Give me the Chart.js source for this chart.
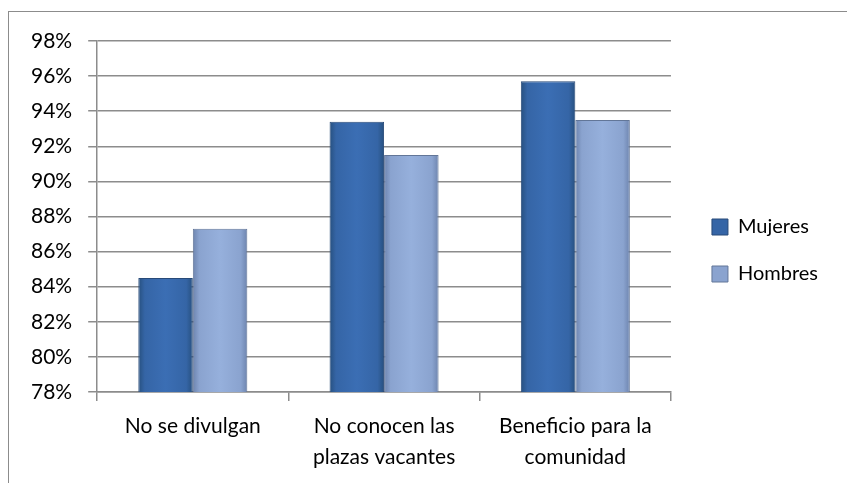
<!DOCTYPE html>
<html>
<head>
<meta charset="utf-8">
<script src="https://cdn.jsdelivr.net/npm/chart.js@4/dist/chart.umd.min.js"></script>
<style>
  html, body { margin: 0; padding: 0; background: #fff; }
  #wrap { position: relative; width: 847px; height: 483px; }
  #frame { position: absolute; left: 8px; top: 11px; width: 900px; height: 600px; border: 1px solid #8c8c8c; box-sizing: border-box; }
  canvas { position: absolute; left: 0; top: 0; }
</style>
</head>
<body>
<div id="wrap">
  <div id="frame"></div>
  <canvas id="barChart" width="847" height="483"></canvas>
</div>
<script>
const categories = ["No se divulgan", ["No conocen las", "plazas vacantes"], ["Beneficio para la", "comunidad"]];
const mujeres = [84.5, 93.4, 95.7];
const hombres = [87.3, 91.5, 93.5];
const yMin = 78;
const yMax = 98;
const yStep = 2;

const CAT_PCT = 0.57;
const FONT = "Lato, 'Open Sans', sans-serif";

document.addEventListener("DOMContentLoaded", () => {
  const canvas = document.getElementById("barChart");
  const ctx = canvas.getContext("2d");

  // degradado horizontal para imitar el bisel de Excel
  const bevel = (dark, mid, light) => (c) => {
    const sx = c.chart.scales.x;
    if (!sx || c.dataIndex == null) return mid;
    const barW = (sx.width / categories.length) * CAT_PCT / 2;
    const center = sx.getPixelForValue(c.dataIndex);
    const x0 = c.datasetIndex === 0 ? center - barW : center;
    const g = c.chart.ctx.createLinearGradient(x0, 0, x0 + barW, 0);
    g.addColorStop(0, dark);
    g.addColorStop(0.12, mid);
    g.addColorStop(0.5, light);
    g.addColorStop(0.88, mid);
    g.addColorStop(1, dark);
    return g;
  };

  // mover la leyenda un poco (a la derecha y arriba) como en el original
  const legendShift = {
    id: "legendShift",
    afterLayout(chart) {
      const lg = chart.legend;
      if (!lg) return;
      lg.left += 14;
      lg.right += 14;
      lg.top -= 11;
      lg.bottom -= 11;
    },
  };

  new Chart(ctx, {
    type: "bar",
    data: {
      labels: categories,
      datasets: [
        {
          label: "Mujeres",
          data: mujeres,
          backgroundColor: bevel("#27507f", "#3565a6", "#3b6eb4"),
          borderColor: "#284a78",
          borderWidth: 1,
          barPercentage: 1,
          categoryPercentage: CAT_PCT,
        },
        {
          label: "Hombres",
          data: hombres,
          backgroundColor: bevel("#6d84ae", "#8aa3cf", "#96b0dc"),
          borderColor: "#627698",
          borderWidth: 1,
          barPercentage: 1,
          categoryPercentage: CAT_PCT,
        },
      ],
    },
    plugins: [legendShift],
    options: {
      responsive: false,
      animation: false,
      layout: { padding: { left: 15, top: 41, right: 33, bottom: 1 } },
      plugins: {
        tooltip: { enabled: false },
        legend: {
          position: "right",
          align: "center",
          labels: {
            boxWidth: 16,
            boxHeight: 16,
            padding: 27,
            color: "#000",
            font: { family: FONT, size: 20 },
            generateLabels: (chart) =>
              chart.data.datasets.map((ds, i) => ({
                text: ds.label,
                fillStyle: i === 0 ? "#3565a6" : "#8aa3cf",
                strokeStyle: i === 0 ? "#284a78" : "#627698",
                lineWidth: 1,
                datasetIndex: i,
              })),
          },
        },
      },
      scales: {
        x: {
          grid: { offset: true, drawOnChartArea: false, color: "#8c8c8c", lineWidth: 1.5, tickLength: 9 },
          border: { color: "#8c8c8c", width: 1.5 },
          ticks: {
            color: "#000",
            padding: 9,
            maxRotation: 0,
            font: { family: FONT, size: 21, lineHeight: 1.5 },
          },
        },
        y: {
          min: yMin,
          max: yMax,
          grid: { color: "#8c8c8c", lineWidth: 1.5, tickLength: 9 },
          border: { color: "#8c8c8c", width: 1.5 },
          ticks: {
            stepSize: yStep,
            color: "#000",
            padding: 16,
            font: { family: FONT, size: 21 },
            callback: (v) => v + "%",
          },
        },
      },
    },
  });
});
</script>
</body>
</html>
